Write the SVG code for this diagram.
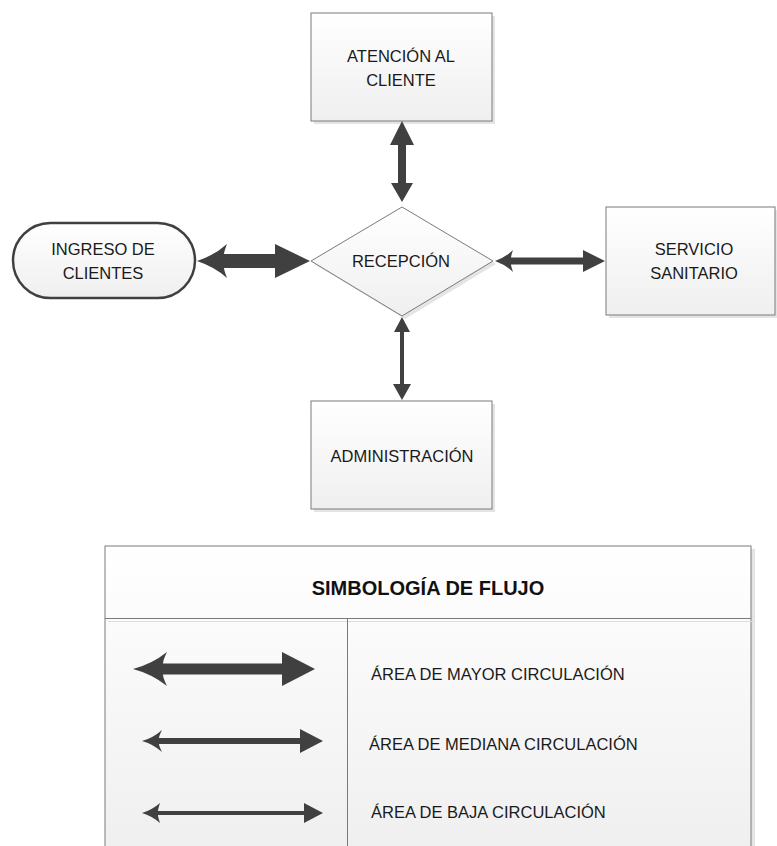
<svg xmlns="http://www.w3.org/2000/svg" width="777" height="846" viewBox="0 0 777 846">
<defs>
<linearGradient id="g" x1="0" y1="0" x2="0" y2="1"><stop offset="0" stop-color="#ffffff"/><stop offset="1" stop-color="#efefef"/></linearGradient>
<style>
.box{fill:url(#g);stroke:#7a7a7a;stroke-width:1}
.sh{fill:#d8d8d8;opacity:0.7}
.lbl{font-family:"Liberation Sans",Arial,sans-serif;font-size:16.5px;fill:#1a1a1a;text-anchor:middle}
.leg{font-family:"Liberation Sans",Arial,sans-serif;font-size:16.5px;fill:#1a1a1a}
.ttl{font-family:"Liberation Sans",Arial,sans-serif;font-size:20px;font-weight:bold;fill:#111;text-anchor:middle}
.arr{fill:#404040;stroke:none}
.ln{stroke:#7a7a7a;stroke-width:1;fill:none}
</style>
</defs>
<rect width="777" height="846" fill="#ffffff"/>

<g id="atencion">
<rect class="sh" x="314" y="16" width="181" height="108"/>
<rect class="box" x="311" y="13" width="181" height="108"/>
<text class="lbl" x="401" y="62">ATENCIÓN AL</text>
<text class="lbl" x="401" y="86">CLIENTE</text>
</g>

<g id="ingreso">
<rect x="13" y="223" width="182" height="75" rx="37.5" fill="url(#g)" stroke="#404040" stroke-width="2.5"/>
<text class="lbl" x="103" y="255">INGRESO DE</text>
<text class="lbl" x="103" y="279">CLIENTES</text>
</g>

<g id="recepcion">
<polygon points="405,210 496,264 405,319 314,264" class="sh"/>
<polygon points="402,207 493,261 402,316 311,261" class="box"/>
<text class="lbl" x="401" y="267">RECEPCIÓN</text>
</g>

<g id="servicio">
<rect class="sh" x="609" y="210" width="168" height="108"/>
<rect class="box" x="606" y="207" width="169" height="108"/>
<text class="lbl" x="694" y="255">SERVICIO</text>
<text class="lbl" x="694" y="279">SANITARIO</text>
</g>

<g id="administracion">
<rect class="sh" x="314" y="404" width="181" height="108"/>
<rect class="box" x="311" y="401" width="181" height="108"/>
<text class="lbl" x="402" y="462">ADMINISTRACIÓN</text>
</g>

<g id="connectors">
<!-- Ingreso <-> Recepcion (thick) -->
<path class="arr" d="M197,261 Q215,255 227,244 Q224,252 224,254 L275,254 L275,244 L310,261 L275,278 L275,268 L224,268 Q224,270 227,278 Q215,267 197,261 Z"/>
<!-- Recepcion <-> Servicio (medium) -->
<path class="arr" d="M495,261 Q506,257 513,250 Q511,256 511,257.5 L583,257.5 L583,250 L605,261 L583,272 L583,264.5 L511,264.5 Q511,266 513,272 Q506,265 495,261 Z"/>
<!-- Atencion <-> Recepcion (vertical, medium) -->
<path class="arr" d="M402,121 L414,145 L406,145 L406,183 L413,183 L402,202 L391,183 L398,183 L398,145 L390,145 Z"/>
<!-- Recepcion <-> Administracion (thin) -->
<path class="arr" d="M402,317 L410,332 L404,332 L404,384 L411,384 L402,400 L393,384 L400,384 L400,332 L394,332 Z"/>
</g>

<g id="legend">
<rect class="sh" x="108" y="549" width="647" height="310"/>
<rect x="105" y="546" width="646" height="310" fill="url(#g)" stroke="#7a7a7a" stroke-width="1"/>
<line class="ln" x1="105" y1="618.5" x2="751" y2="618.5"/>
<line x1="108" y1="621.5" x2="755" y2="621.5" stroke="#dcdcdc" stroke-width="1"/>
<line class="ln" x1="347.5" y1="618" x2="347.5" y2="846"/>
<text class="ttl" x="428" y="595">SIMBOLOGÍA DE FLUJO</text>

<path class="arr" d="M133,669 Q152,664 167,652 Q163,660 163,663.5 L282,663.5 L282,652 L315,669 L282,686 L282,674.5 L163,674.5 Q163,678 167,686 Q152,674 133,669 Z"/>
<path class="arr" d="M142,741 Q153,738 162,730 Q159,736 159,738 L300,738 L300,729 L323,741 L300,753 L300,744 L159,744 Q159,746 162,752 Q153,744 142,741 Z"/>
<path class="arr" d="M142,813 Q152,810 160,803 Q158,809 158,811 L304,811 L304,803 L323,813 L304,823 L304,815 L158,815 Q158,817 160,823 Q152,816 142,813 Z"/>

<text class="leg" x="371" y="680">ÁREA DE MAYOR CIRCULACIÓN</text>
<text class="leg" x="369" y="750">ÁREA DE MEDIANA CIRCULACIÓN</text>
<text class="leg" x="371" y="818">ÁREA DE BAJA CIRCULACIÓN</text>
</g>
</svg>
